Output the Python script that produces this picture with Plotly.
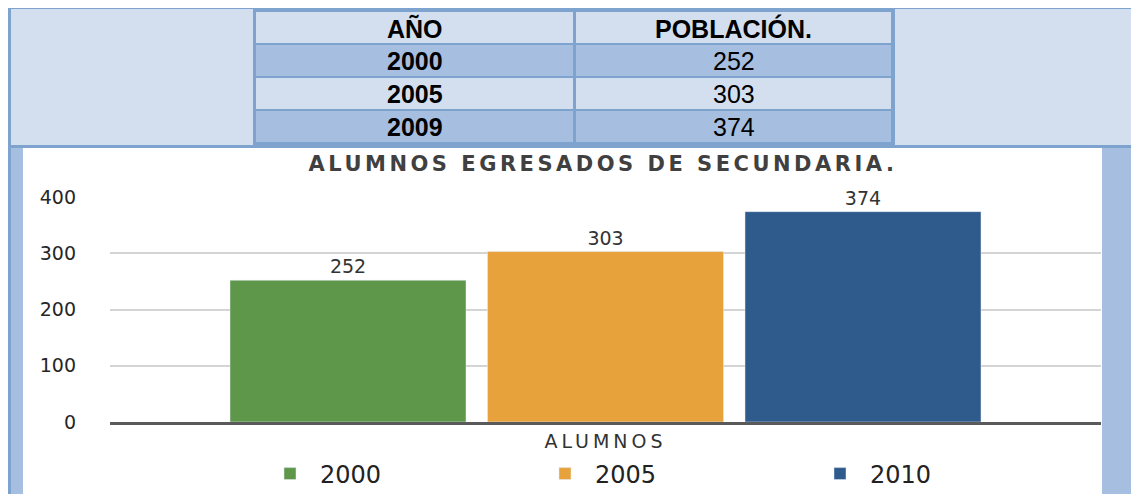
import plotly.graph_objects as go

# datos de la tabla
anios_tabla = ["2000", "2005", "2009"]
poblacion = [252, 303, 374]

# datos de la grafica
series = ["2000", "2005", "2010"]
categoria = ["ALUMNOS"]
colores = ["#5E9749", "#E8A23C", "#2E5A8C"]

W, H = 1139, 494
# la pagina deja 8px de margen en el body
OX, OY = 8, 8
BORDE = "#7FA3CF"
CLARO = "#D3DFEF"
OSCURO = "#A6BEDF"


def fx(px):
    return (px - OX) / W


def fy(py):
    return 1 - (py - OY) / H


def rect(x0, y0, x1, y1, color):
    return dict(type="rect", xref="paper", yref="paper", layer="below",
                x0=fx(x0), x1=fx(x1), y0=fy(y1), y1=fy(y0),
                fillcolor=color, line=dict(width=0))


fig = go.Figure()

for nombre, color, valor in zip(series, colores, poblacion):
    fig.add_trace(go.Bar(
        x=categoria,
        y=[valor],
        name=nombre,
        marker=dict(color=color),
        text=[valor],
        textposition="outside",
        textfont=dict(family="DejaVu Sans", size=19, color="#333333"),
        cliponaxis=False
    ))

# marco de la tabla y de la grafica
shapes = [
    rect(8, 6, 1139, 148, BORDE),
    rect(11, 9, 253, 145, CLARO),
    rect(895, 9, 1137, 145, CLARO),
    rect(8, 148, 11, 500, BORDE),
    rect(11, 148, 23, 500, OSCURO),
    rect(1102, 148, 1137, 500, OSCURO),
    rect(1137, 148, 1139, 500, BORDE),
]

# celdas de la tabla
filas = [("AÑO", "POBLACIÓN.")] + list(zip(anios_tabla, [str(p) for p in poblacion]))
annotations = []
for i, (c1, c2) in enumerate(filas):
    top = 12 + i * 33
    color = CLARO if i % 2 == 0 else OSCURO
    shapes.append(rect(256, top, 573, top + 31, color))
    shapes.append(rect(576, top, 891, top + 31, color))
    annotations.append(dict(
        x=fx(414.5), y=fy(top + 16), xref="paper", yref="paper",
        xanchor="center", yanchor="middle",
        text=f"<b>{c1}</b>", showarrow=False,
        font=dict(family="Liberation Sans", size=25, color="black")
    ))
    annotations.append(dict(
        x=fx(733.5), y=fy(top + 16), xref="paper", yref="paper",
        xanchor="center", yanchor="middle",
        text=f"<b>{c2}</b>" if i == 0 else c2, showarrow=False,
        font=dict(family="Liberation Sans", size=25, color="black")
    ))

fig.update_layout(
    width=W,
    height=H,
    margin=dict(l=0, r=0, t=0, b=0, autoexpand=False),
    paper_bgcolor="white",
    plot_bgcolor="white",
    shapes=shapes,
    annotations=annotations,
    title=dict(
        text='<span style="letter-spacing:3.5px">ALUMNOS EGRESADOS DE SECUNDARIA.</span>',
        x=fx(603), y=fy(164), xanchor="center", yanchor="middle",
        font=dict(family="DejaVu Sans", size=21, color="#404040", weight="bold")
    ),
    barmode="group",
    bargap=0.2205,
    bargroupgap=0.0835,
    showlegend=True,
    legend=dict(
        orientation="h",
        x=fx(260), y=fy(474), xanchor="left", yanchor="middle",
        font=dict(family="DejaVu Sans", size=24, color="#222222"),
        itemwidth=50,
        entrywidth=210,
        bgcolor="rgba(0,0,0,0)"
    ),
    xaxis=dict(
        domain=[fx(110), fx(1101)],
        showline=True,
        linecolor="#5A5A5A",
        linewidth=2.5,
        tickvals=categoria,
        ticktext=['<span style="letter-spacing:4px">ALUMNOS</span>'],
        tickfont=dict(family="DejaVu Sans", size=19, color="#333333"),
        ticks="",
    ),
    yaxis=dict(
        domain=[fy(422), fy(197)],
        range=[0, 400],
        dtick=100,
        gridcolor="#D4D4D4",
        gridwidth=2,
        zeroline=False,
        ticklabelstandoff=33,
        tickfont=dict(family="DejaVu Sans", size=19, color="#262626"),
    ),
)

fig.write_html("out.html")
